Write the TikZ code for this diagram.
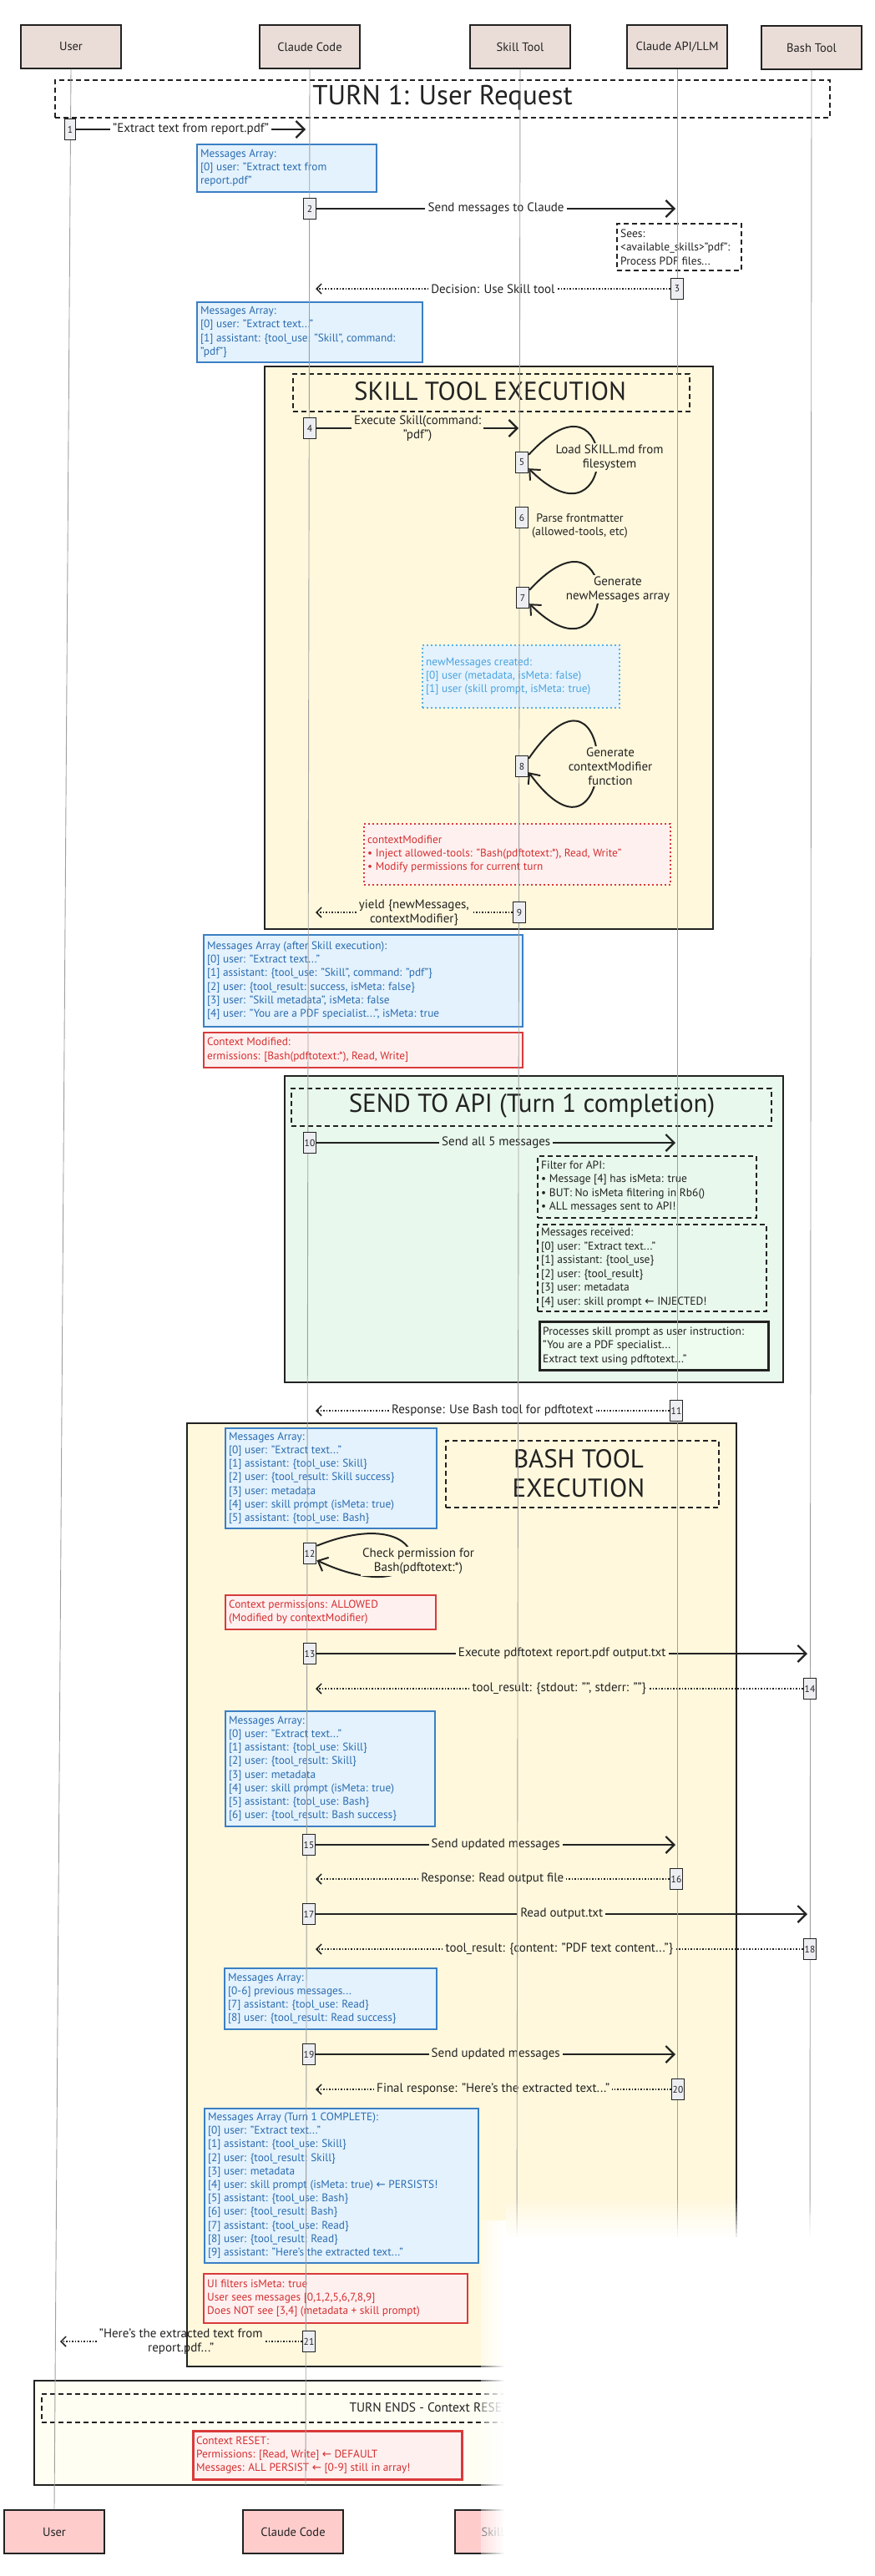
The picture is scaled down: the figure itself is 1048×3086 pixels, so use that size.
\documentclass[tikz,border=0pt]{standalone}
\usepackage{fontspec}
\setmainfont{PT Sans}
\newfontfamily\symf{DejaVu Sans}
\usetikzlibrary{arrows.meta}
\newcommand{\myfs}[2]{\fontsize{#1}{#2}\selectfont}
\newcommand{\myarrow}{{\symf ←}}
\definecolor{hdr}{HTML}{EADDD7}
\definecolor{ftr}{HTML}{FFCCCC}
\definecolor{act}{HTML}{EDEEF2}
\definecolor{bfill}{HTML}{E3F2FD}
\definecolor{bline}{HTML}{3B7FC4}
\definecolor{btext}{HTML}{2B6CB0}
\definecolor{rfill}{HTML}{FFF0F0}
\definecolor{rline}{HTML}{D93A3A}
\definecolor{rtext}{HTML}{D32F2F}
\definecolor{yfill}{HTML}{FFF8DC}
\definecolor{gfill}{HTML}{E8F8EC}
\definecolor{pfill}{HTML}{EEFBEF}
\definecolor{efill}{HTML}{FEFEF2}
\definecolor{lbline}{HTML}{5AB0E8}
\definecolor{lbtext}{HTML}{4AA3DF}
\definecolor{ink}{HTML}{222222}
\definecolor{life}{HTML}{A0A0A0}
\pgfdeclarelayer{back}
\pgfdeclarelayer{lines}
\pgfdeclarelayer{front}
\pgfdeclarelayer{fadeL}
\pgfsetlayers{back,main,lines,front,fadeL}
\tikzset{
  actor/.style={draw=ink, line width=1.4, fill=hdr, minimum width=120, minimum height=52, inner sep=2, font=\myfs{14.5}{17}, text=ink},
  actorB/.style={actor, fill=ftr},
  actbox/.style={draw=ink, line width=1.4, fill=act, minimum width=15, minimum height=25, inner sep=1.5, font=\myfs{11.5}{13}, text=ink},
  msg/.style={draw=ink, line width=2.2},
  arr/.style={msg, -{Straight Barb[length=10,width=20]}},
  ret/.style={draw=ink, line width=1.5, dotted},
  retarr/.style={ret, -{Straight Barb[length=6,width=12]}},
  lbl/.style={font=\myfs{15}{17}, inner sep=3, align=center, text=ink},
  looparr/.style={draw=ink, line width=2, -{Straight Barb[length=10,width=18]}},
  looplbl/.style={lbl, fill=yfill, inner sep=2},
  lifeline/.style={draw=life, line width=0.9},
  frameY/.style={draw=ink, line width=1.8, fill=yfill, anchor=north west, inner sep=0},
  frameG/.style={frameY, fill=gfill},
  frameE/.style={frameY, fill=efill},
  dashBox/.style={draw=ink, line width=1.6, dash pattern=on 6pt off 4pt, anchor=north west, inner sep=0},
  titleTxt/.style={font=\myfs{31}{35}, text=ink, align=center},
  blueBox/.style={draw=bline, line width=1.5, fill=bfill, anchor=north west, inner sep=0},
  redBox/.style={draw=rline, line width=1.5, fill=rfill, anchor=north west, inner sep=0},
  dotBlue/.style={draw=lbline, line width=1.6, dash pattern=on 2pt off 3pt, fill=bfill, anchor=north west, inner sep=0},
  dotRed/.style={draw=rline, line width=1.6, dash pattern=on 2pt off 3pt, fill=rfill, anchor=north west, inner sep=0},
  blueTxt/.style={text=btext, font=\myfs{13.3}{16.2}, align=left, anchor=west, inner sep=0},
  lblueTxt/.style={blueTxt, text=lbtext},
  redTxt/.style={blueTxt, text=rtext},
  blackTxt/.style={blueTxt, text=ink, font=\myfs{13.5}{16.5}},
}
\newcommand{\fwd}[4]{%
  \path (#1.east) -- (#1.east -| #2) node[midway,lbl] (#3) {#4};
  \draw[msg] (#1.east) -- (#3.west);
  \draw[arr] (#3.east) -- (#1.east -| #2);}
\newcommand{\bwd}[4]{%
  \path (#1.west) -- (#1.west -| #2) node[midway,lbl] (#3) {#4};
  \draw[ret] (#1.west) -- (#3.east);
  \draw[retarr] (#3.west) -- (#1.west -| #2);}
\newcommand{\btext}[4]{\node[#1] (#2) at ([xshift=5]#3.west) {#4};}
\begin{document}
\begin{tikzpicture}[x=1pt,y=-1pt]
\useasboundingbox (0,0) rectangle (1048,3086);
\begin{pgfonlayer}{back}
\fill[white] (0,0) rectangle (1048,3086);
% actors
\node[actor] (hU) at (85,56) {User};
\node[actor] (hC) at (371,56) {Claude Code};
\node[actor] (hS) at (623,56) {Skill Tool};
\node[actor] (hA) at (811,56) {Claude API/LLM};
\node[actor] (hB) at (972,57) {Bash Tool};
\node[actorB] (fU) at (65,3033) {User};
\node[actorB] (fC) at (351,3033) {Claude Code};
\node[actorB] (fS) at (605,3033) {Skill Tool};
% turn 1
\node[dashBox, minimum width=928, minimum height=45] (t1) at (65,95) {};
\node[titleTxt, font=\myfs{33}{36}] (t1t) at (530,117) {TURN 1: User Request};
% frames
\node[frameY, minimum width=537, minimum height=674] (fSkill) at (316,438) {};
\node[dashBox, minimum width=475, minimum height=45] (fSkillT) at (350,447) {};
\node[titleTxt] (fSkillTt) at (587,469) {SKILL TOOL EXECUTION};
\node[frameG, minimum width=597, minimum height=367] (fApi) at (340,1288) {};
\node[dashBox, minimum width=575, minimum height=45] (fApiT) at (348,1303) {};
\node[titleTxt] (fApiTt) at (637,1325) {SEND TO API (Turn 1 completion)};
\node[frameY, minimum width=658, minimum height=1130] (fBash) at (223,1704) {};
\node[dashBox, minimum width=327, minimum height=80] (fBashT) at (533,1725) {};
\node[titleTxt] (fBashTt) at (693,1765) {BASH TOOL\\EXECUTION};
\node[frameE, minimum width=968, minimum height=125] (fEnd) at (40,2851) {};
\node[dashBox, minimum width=951, minimum height=34] (fEndT) at (49,2867) {};
\node[anchor=west, font=\myfs{15.5}{18}, text=ink] (fEndTt) at (415,2884) {TURN ENDS - Context RESET};
% notes
\node[blueBox, minimum width=215, minimum height=57] (nb1) at (235,172) {};
\btext{blueTxt}{nb1t}{nb1}{Messages Array:\\{}[0] user: "Extract text from\\report.pdf"}
\node[dashBox, fill=white, minimum width=149, minimum height=56] (nSees) at (738,267) {};
\btext{blackTxt}{nSeest}{nSees}{Sees:\\<available\_skills>"pdf":\\Process PDF files...}
\node[blueBox, minimum width=270, minimum height=72] (nb2) at (235,361) {};
\btext{blueTxt}{nb2t}{nb2}{Messages Array:\\{}[0] user: "Extract text..."\\{}[1] assistant: \{tool\_use: "Skill", command:\\"pdf"\}}
\node[dotBlue, minimum width=236, minimum height=75] (nNew) at (505,772) {};
\btext{lblueTxt}{nNewt}{nNew}{newMessages created:\\{}[0] user (metadata, isMeta: false)\\{}[1] user (skill prompt, isMeta: true)}
\node[dotRed, minimum width=367, minimum height=73] (nCM) at (435,986) {};
\btext{redTxt}{nCMt}{nCM}{contextModifier\\• Inject allowed-tools: "Bash(pdftotext:*), Read, Write"\\• Modify permissions for current turn}
\node[blueBox, minimum width=382, minimum height=110] (nb3) at (243,1119) {};
\btext{blueTxt}{nb3t}{nb3}{Messages Array (after Skill execution):\\{}[0] user: "Extract text..."\\{}[1] assistant: \{tool\_use: "Skill", command: "pdf"\}\\{}[2] user: \{tool\_result: success, isMeta: false\}\\{}[3] user: "Skill metadata", isMeta: false\\{}[4] user: "You are a PDF specialist...", isMeta: true}
\node[redBox, minimum width=382, minimum height=42] (nr2) at (243,1236) {};
\btext{redTxt}{nr2t}{nr2}{Context Modified:\\ermissions: [Bash(pdftotext:*), Read, Write]}
\node[dashBox, minimum width=262, minimum height=74] (nFil) at (643,1384) {};
\btext{blackTxt}{nFilt}{nFil}{Filter for API:\\• Message [4] has isMeta: true\\• BUT: No isMeta filtering in Rb6()\\• ALL messages sent to API!}
\node[dashBox, minimum width=274, minimum height=104] (nRec) at (643,1466) {};
\btext{blackTxt}{nRect}{nRec}{Messages received:\\{}[0] user: "Extract text..."\\{}[1] assistant: \{tool\_use\}\\{}[2] user: \{tool\_result\}\\{}[3] user: metadata\\{}[4] user: skill prompt \myarrow{} INJECTED!}
\node[draw=ink, line width=2.6, fill=pfill, anchor=north west, inner sep=0, minimum width=274, minimum height=58] (nProc) at (645,1582) {};
\btext{blackTxt}{nProct}{nProc}{Processes skill prompt as user instruction:\\"You are a PDF specialist...\\Extract text using pdftotext..."}
\node[blueBox, minimum width=253, minimum height=120] (nb4) at (269,1710) {};
\btext{blueTxt}{nb4t}{nb4}{Messages Array:\\{}[0] user: "Extract text..."\\{}[1] assistant: \{tool\_use: Skill\}\\{}[2] user: \{tool\_result: Skill success\}\\{}[3] user: metadata\\{}[4] user: skill prompt (isMeta: true)\\{}[5] assistant: \{tool\_use: Bash\}}
\node[redBox, minimum width=252, minimum height=41] (nr3) at (269,1910) {};
\btext{redTxt}{nr3t}{nr3}{Context permissions: ALLOWED\\(Modified by contextModifier)}
\node[blueBox, minimum width=251, minimum height=138] (nb5) at (269,2049) {};
\btext{blueTxt}{nb5t}{nb5}{Messages Array:\\{}[0] user: "Extract text..."\\{}[1] assistant: \{tool\_use: Skill\}\\{}[2] user: \{tool\_result: Skill\}\\{}[3] user: metadata\\{}[4] user: skill prompt (isMeta: true)\\{}[5] assistant: \{tool\_use: Bash\}\\{}[6] user: \{tool\_result: Bash success\}}
\node[blueBox, minimum width=254, minimum height=73] (nb6) at (268,2357) {};
\btext{blueTxt}{nb6t}{nb6}{Messages Array:\\{}[0-6] previous messages...\\{}[7] assistant: \{tool\_use: Read\}\\{}[8] user: \{tool\_result: Read success\}}
\node[blueBox, minimum width=328, minimum height=185] (nb7) at (244,2525) {};
\btext{blueTxt}{nb7t}{nb7}{Messages Array (Turn 1 COMPLETE):\\{}[0] user: "Extract text..."\\{}[1] assistant: \{tool\_use: Skill\}\\{}[2] user: \{tool\_result: Skill\}\\{}[3] user: metadata\\{}[4] user: skill prompt (isMeta: true) \myarrow{} PERSISTS!\\{}[5] assistant: \{tool\_use: Bash\}\\{}[6] user: \{tool\_result: Bash\}\\{}[7] assistant: \{tool\_use: Read\}\\{}[8] user: \{tool\_result: Read\}\\{}[9] assistant: "Here's the extracted text..."}
\node[redBox, minimum width=316, minimum height=59] (nr4) at (243,2723) {};
\btext{redTxt}{nr4t}{nr4}{UI filters isMeta: true\\User sees messages [0,1,2,5,6,7,8,9]\\Does NOT see [3,4] (metadata + skill prompt)}
\node[redBox, line width=2.6, minimum width=322, minimum height=58] (nr5) at (230,2911) {};
\btext{redTxt}{nr5t}{nr5}{Context RESET:\\Permissions: [Read, Write] \myarrow{} DEFAULT\\Messages: ALL PERSIST \myarrow{} [0-9] still in array!}
\end{pgfonlayer}
% activations
\begin{pgfonlayer}{front}
\node[actbox, minimum width=13] (a1) at (84,155) {1};
\node[actbox] (a2) at (371,250) {2};
\node[actbox] (a3) at (811,346) {3};
\node[actbox] (a4) at (371,513) {4};
\node[actbox] (a5) at (625,554) {5};
\node[actbox] (a6) at (625,620) {6};
\node[actbox] (a7) at (626,716) {7};
\node[actbox] (a8) at (625,918) {8};
\node[actbox] (a9) at (622,1093) {9};
\node[actbox] (a10) at (371,1369) {10};
\node[actbox] (a11) at (810,1690) {11};
\node[actbox] (a12) at (371,1861) {12};
\node[actbox] (a13) at (371,1981) {13};
\node[actbox] (a14) at (970,2023) {14};
\node[actbox] (a15) at (370,2210) {15};
\node[actbox] (a16) at (810,2251) {16};
\node[actbox] (a17) at (370,2293) {17};
\node[actbox] (a18) at (970,2335) {18};
\node[actbox] (a19) at (370,2461) {19};
\node[actbox] (a20) at (812,2503) {20};
\node[actbox] (a21) at (370,2805) {21};
\end{pgfonlayer}
% lifeline targets
\coordinate (ccIn) at (366,0);
\coordinate (ccRet) at (378,0);
\coordinate (skIn) at (621,0);
\coordinate (apiIn) at (809,0);
\coordinate (bashIn) at (967,0);
\coordinate (uRet) at (72,0);
\coordinate (ccEnd) at (366,2977);
\coordinate (skEnd) at (619,2700);
\coordinate (apiEnd) at (811,2700);
\coordinate (bashEnd) at (970,2700);
% messages
\fwd{a1}{ccIn}{m1}{"Extract text from report.pdf"}
\fwd{a2}{apiIn}{m2}{Send messages to Claude}
\bwd{a3}{ccRet}{m3}{Decision: Use Skill tool}
\fwd{a4}{skIn}{m4}{Execute Skill(command:\\"pdf")}
\bwd{a9}{ccRet}{m9}{yield \{newMessages,\\contextModifier\}}
\fwd{a10}{apiIn}{m10}{Send all 5 messages}
\bwd{a11}{ccRet}{m11}{Response: Use Bash tool for pdftotext}
\fwd{a13}{bashIn}{m13}{Execute pdftotext report.pdf output.txt}
\bwd{a14}{ccRet}{m14}{tool\_result: \{stdout: "", stderr: ""\}}
\fwd{a15}{apiIn}{m15}{Send updated messages}
\bwd{a16}{ccRet}{m16}{Response: Read output file}
\fwd{a17}{bashIn}{m17}{Read output.txt}
\bwd{a18}{ccRet}{m18}{tool\_result: \{content: "PDF text content..."\}}
\fwd{a19}{apiIn}{m19}{Send updated messages}
\bwd{a20}{ccRet}{m20}{Final response: "Here's the extracted text..."}
\bwd{a21}{uRet}{m21}{"Here's the extracted text from\\report.pdf..."}
% self loops
\draw[looparr] ([yshift=-4]a5.north east) .. controls +(110,-120) and +(110,110) .. ([yshift=6]a5.south east);
\node[looplbl] (l5) at (730,548) {Load SKILL.md from\\filesystem};
\node[lbl, anchor=west, font=\myfs{14}{16.5}] (l6) at (634,630) {Parse frontmatter\\(allowed-tools, etc)};
\draw[looparr] ([yshift=-4]a7.north east) .. controls +(110,-120) and +(110,110) .. ([yshift=6]a7.south east);
\node[looplbl] (l7) at (740,706) {Generate\\newMessages array};
\draw[looparr] ([yshift=-4]a8.north east) .. controls +(110,-160) and +(110,150) .. ([yshift=6]a8.south east);
\node[looplbl] (l8) at (731,918) {Generate\\contextModifier\\function};
\draw[looparr] ([yshift=-4]a12.north east) .. controls +(150,-60) and +(150,70) .. ([yshift=5]a12.south east);
\node[looplbl] (l12) at (501,1870) {Check permission for\\Bash(pdftotext:*)};
% lifelines
\begin{pgfonlayer}{lines}
\draw[lifeline] (hU.south) -- (fU.north);
\draw[lifeline] (hC.south) -- (ccEnd);
\draw[lifeline] (hS.south) -- (skEnd);
\draw[lifeline] (hA.south) -- (apiEnd);
\draw[lifeline] (hB.south) -- (bashEnd);
\end{pgfonlayer}
% faded corner
\begin{pgfonlayer}{fadeL}
\foreach \i in {0,...,9} {\pgfmathsetmacro\op{0.35+0.65*(\i+1)/10}
  \fill[white, opacity=\op] ({576+3*\i},2660) rectangle ({579+3*\i},3086);}
\foreach \i in {0,...,9} {\pgfmathsetmacro\op{(\i+1)/10}
  \fill[white, opacity=\op] (606,{2635+5*\i}) rectangle (1048,{2640+5*\i});}
\fill[white] (606,2685) rectangle (1048,3086);
\end{pgfonlayer}
\end{tikzpicture}
\end{document}
